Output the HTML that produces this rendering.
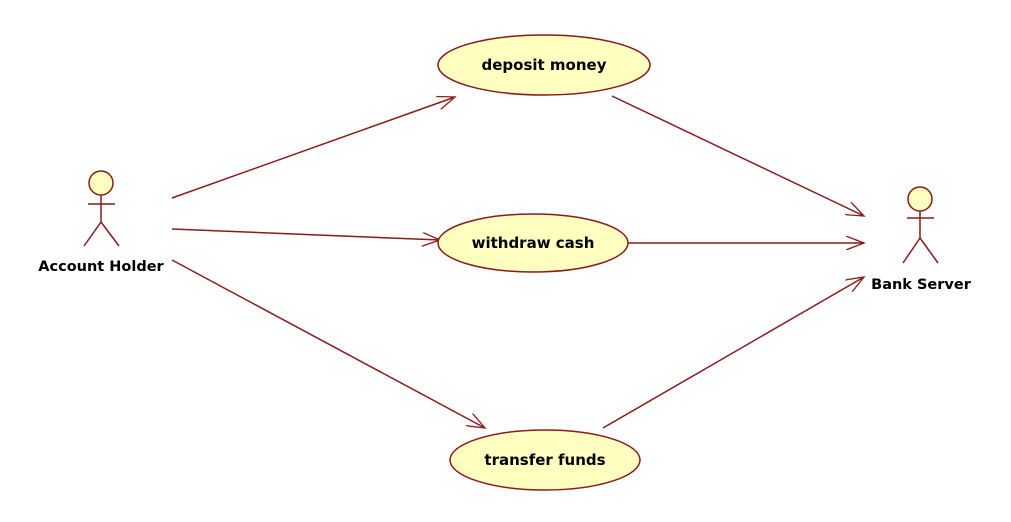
<!DOCTYPE html>
<html><head><style>body{margin:0;background:#fff}svg{display:block}</style></head><body>
<svg width="1011" height="522" xmlns="http://www.w3.org/2000/svg" font-family="'DejaVu Sans', 'Liberation Sans', sans-serif" font-weight="bold" font-size="15">
<defs><marker id="a" markerWidth="20" markerHeight="14" refX="18" refY="7" orient="auto" markerUnits="userSpaceOnUse"><path d="M0,0 L18,7 L0,14" fill="none" stroke="#8b1a1a" stroke-width="1.3"/></marker></defs>
<g stroke="#8b1a1a" stroke-width="1.5" fill="none">
<line x1="172" y1="198" x2="455" y2="97" marker-end="url(#a)"/>
<line x1="172" y1="229" x2="440" y2="240" marker-end="url(#a)"/>
<line x1="172" y1="260" x2="485" y2="428" marker-end="url(#a)"/>
<line x1="612" y1="96" x2="864" y2="216" marker-end="url(#a)"/>
<line x1="628" y1="243" x2="864" y2="243" marker-end="url(#a)"/>
<line x1="603" y1="428" x2="864" y2="277" marker-end="url(#a)"/>
<g fill="#ffffc0">
<ellipse cx="544" cy="65" rx="106" ry="30"/>
<ellipse cx="533" cy="243" rx="95" ry="29"/>
<ellipse cx="545" cy="460" rx="95" ry="30"/>
<circle cx="101" cy="183" r="12"/>
<circle cx="920" cy="199" r="12"/>
</g>
<path d="M88,204H115M101,195V222L84,246M101,222L119,246"/>
<path d="M907,218H934M920,211V238L903,263M920,238L938,263"/>
</g>
<g fill="#000" text-anchor="middle">
<text x="544" y="70">deposit money</text>
<text x="533" y="248">withdraw cash</text>
<text x="545" y="465">transfer funds</text>
<text x="101" y="271" font-size="14.5">Account Holder</text>
<text x="921" y="289" font-size="14.5">Bank Server</text>
</g>
</svg>
</body></html>
